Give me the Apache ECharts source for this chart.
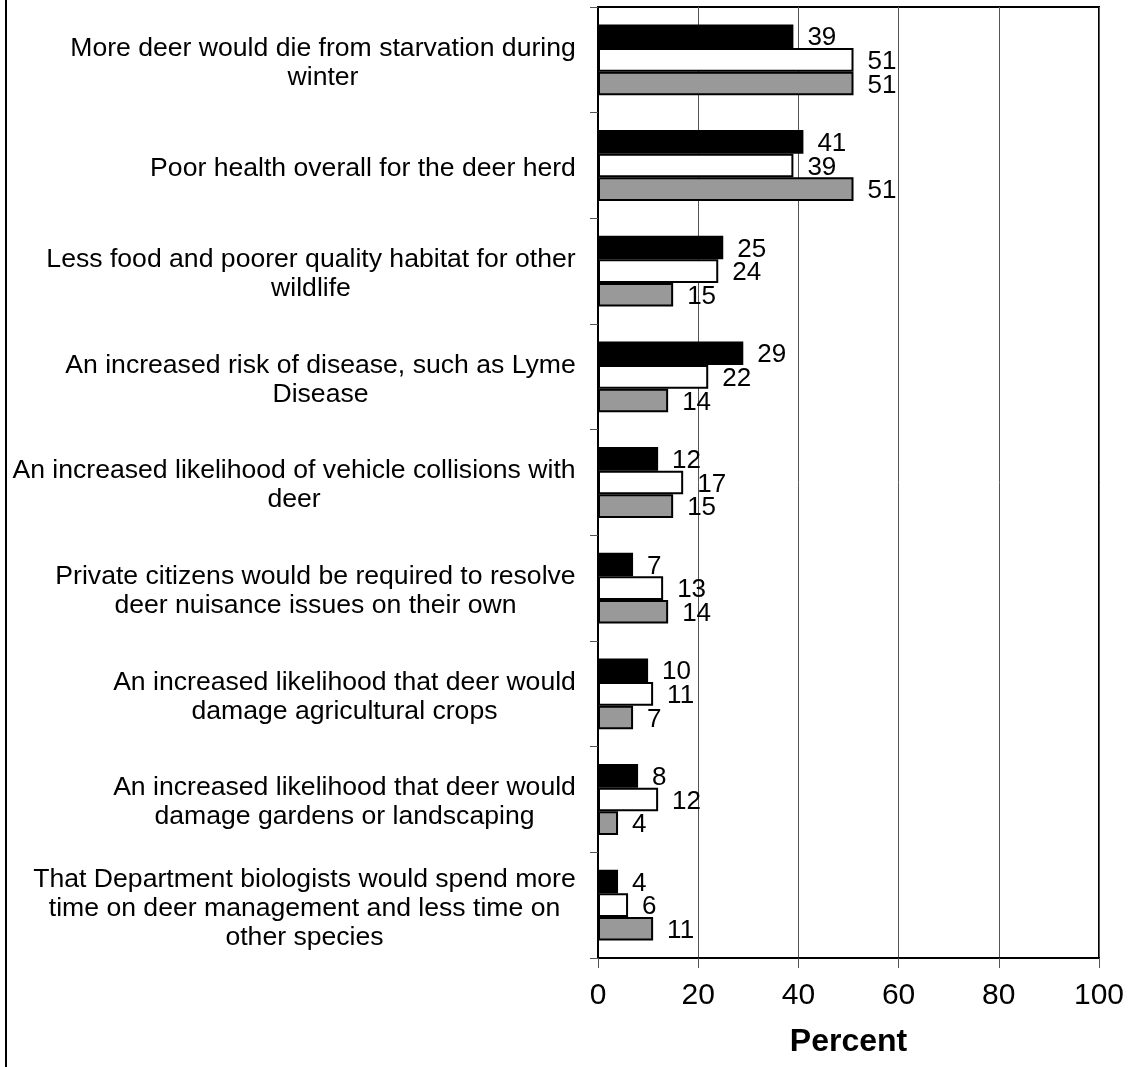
<!DOCTYPE html>
<html>
<head>
<meta charset="utf-8">
<script src="https://cdn.jsdelivr.net/npm/echarts@6/dist/echarts.min.js"></script>
<style>
html,body{margin:0;padding:0;background:#fff;}
#chart{width:1128px;height:1067px;}
</style>
</head>
<body>
<div id="chart"></div>
<script>
var categories = [
  "More deer would die from starvation during\nwinter",
  "Poor health overall for the deer herd",
  "Less food and poorer quality habitat for other\nwildlife",
  "An increased risk of disease, such as Lyme\nDisease",
  "An increased likelihood of vehicle collisions with\ndeer",
  "Private citizens would be required to resolve\ndeer nuisance issues on their own",
  "An increased likelihood that deer would\ndamage agricultural crops",
  "An increased likelihood that deer would\ndamage gardens or landscaping",
  "That Department biologists would spend more\ntime on deer management and less time on\nother species"
];
var seriesBlack = [39, 41, 25, 29, 12, 7, 10, 8, 4];
var seriesWhite = [51, 39, 24, 22, 17, 13, 11, 12, 6];
var seriesGray  = [51, 51, 15, 14, 15, 14, 7, 4, 11];
var xTicks = [0, 20, 40, 60, 80, 100];

var FONT = "'Liberation Sans', Arial, Helvetica, sans-serif";
var CAT_SIZE = 26.6;

// measure widest line of each category label to centre lines within its block
var cv = document.createElement('canvas').getContext('2d');
cv.font = CAT_SIZE + "px " + FONT;
var rich = {};
var keys = categories.map(function (c, i) {
  var w = 0;
  c.split('\n').forEach(function (l) { w = Math.max(w, cv.measureText(l).width); });
  rich['c' + i] = {width: Math.ceil(w) + 2, align: 'center', fontSize: CAT_SIZE, lineHeight: 29, color: '#000', fontFamily: FONT};
  return 'c' + i;
});

var chart = echarts.init(document.getElementById('chart'), null, {renderer: 'canvas'});

function barSeries(name, data, color) {
  return {
    name: name,
    type: 'bar',
    data: data,
    barGap: '0%',
    barCategoryGap: '33%',
    itemStyle: {color: color, borderColor: '#000', borderWidth: 2},
    label: {
      show: true, position: 'right', distance: 14,
      fontSize: 26, color: '#000', fontFamily: FONT, offset: [0, 2]
    },
    emphasis: {disabled: true},
    animation: false
  };
}

chart.setOption({
  animation: false,
  backgroundColor: '#fff',
  textStyle: {fontFamily: FONT},
  grid: {left: 598, right: 29, top: 7, bottom: 109, show: true, borderColor: '#000', borderWidth: 2, containLabel: false},
  xAxis: {
    type: 'value', min: xTicks[0], max: xTicks[xTicks.length - 1], interval: 20,
    axisLine: {show: true, lineStyle: {color: '#000', width: 2}},
    axisTick: {show: true, length: 10, lineStyle: {color: '#555', width: 1}},
    axisLabel: {fontSize: 30, color: '#000', margin: 23, fontFamily: FONT},
    splitLine: {show: true, lineStyle: {color: '#555', width: 1}},
    name: 'Percent', nameLocation: 'middle', nameGap: 68,
    nameTextStyle: {fontSize: 32, fontWeight: 'bold', color: '#000', fontFamily: FONT}
  },
  yAxis: {
    type: 'category', data: categories, inverse: true,
    axisLine: {show: true, lineStyle: {color: '#000', width: 2}},
    axisTick: {show: true, length: 8, lineStyle: {color: '#555', width: 1}},
    axisLabel: {
      margin: 21, align: 'right', padding: [6, 0, 0, 0],
      formatter: function (v, i) { return v.split('\n').map(function (l) { return '{' + keys[i] + '|' + l + '}'; }).join('\n'); },
      rich: rich
    }
  },
  graphic: [{
    type: 'line', shape: {x1: 6, y1: 0, x2: 6, y2: 1067},
    style: {stroke: '#000', lineWidth: 2}
  }],
  series: [
    barSeries('Series 1', seriesBlack, '#000000'),
    barSeries('Series 2', seriesWhite, '#ffffff'),
    barSeries('Series 3', seriesGray, '#999999')
  ]
});
</script>
</body>
</html>
